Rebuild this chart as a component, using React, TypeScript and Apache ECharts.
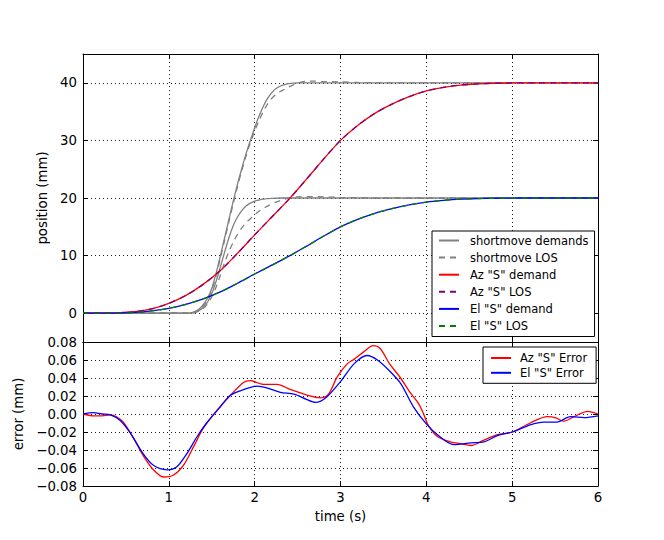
import React, { useEffect, useRef } from "react";
import * as echarts from "echarts";

// ---------- data ----------
const xTicks = [0, 1, 2, 3, 4, 5, 6];
const positionTicks = [0, 10, 20, 30, 40];
const errorTicks = [-0.08, -0.06, -0.04, -0.02, 0, 0.02, 0.04, 0.06, 0.08];

const topLegendNames = [
  "shortmove demands",
  "shortmove LOS",
  'Az "S" demand',
  'Az "S" LOS',
  'El "S" demand',
  'El "S" LOS',
];
const bottomLegendNames = ['Az "S" Error', 'El "S" Error'];

const shortDemand40: [number, number][] = [
  [0, 0], [1.0, 0], [1.15, 0], [1.2, 0], [1.25, 0.05], [1.3, 0.25], [1.35, 0.7], [1.4, 1.5],
  [1.45, 2.6], [1.5, 4.3], [1.55, 6.9], [1.6, 9.9], [1.65, 13.1], [1.7, 16.3], [1.75, 19.4],
  [1.8, 22.4], [1.85, 25.1], [1.9, 27.7], [1.95, 30.0], [2.0, 32.2], [2.05, 34.2], [2.1, 35.9],
  [2.15, 37.3], [2.2, 38.3], [2.25, 39.0], [2.3, 39.45], [2.35, 39.7], [2.4, 39.85], [2.5, 39.97],
  [2.6, 40], [3.0, 40], [6.0, 40],
];
const shortDemand20: [number, number][] = [
  [0, 0], [1.0, 0], [1.15, 0], [1.2, 0], [1.25, 0.03], [1.3, 0.15], [1.35, 0.45], [1.4, 1.0],
  [1.45, 1.9], [1.5, 3.4], [1.55, 5.5], [1.6, 8.0], [1.65, 10.6], [1.7, 13.1], [1.75, 15.2],
  [1.8, 16.7], [1.85, 17.8], [1.9, 18.6], [1.95, 19.1], [2.0, 19.45], [2.05, 19.65], [2.1, 19.8],
  [2.2, 19.93], [2.3, 20], [3.0, 20], [6.0, 20],
];
const shortLos40: [number, number][] = [
  [0, 0], [1.0, 0], [1.15, 0], [1.2, 0], [1.25, 0.03], [1.3, 0.2], [1.35, 0.6], [1.4, 1.3],
  [1.45, 2.3], [1.5, 4.0], [1.55, 6.5], [1.6, 9.5], [1.65, 12.7], [1.7, 15.9], [1.75, 19.0],
  [1.8, 22.0], [1.85, 24.8], [1.9, 27.3], [1.95, 29.6], [2.0, 31.6], [2.05, 33.4], [2.1, 35.0],
  [2.15, 36.3], [2.2, 37.3], [2.25, 38.0], [2.3, 38.5], [2.35, 38.9], [2.4, 39.3], [2.45, 39.65],
  [2.5, 39.95], [2.6, 40.25], [2.7, 40.3], [2.8, 40.2], [2.9, 40.2], [3.0, 40.15], [3.2, 40.05],
  [3.5, 40], [6.0, 40],
];
const shortLos20: [number, number][] = [
  [0, 0], [1.0, 0], [1.15, 0], [1.2, 0], [1.25, 0.02], [1.3, 0.1], [1.35, 0.35], [1.4, 0.8],
  [1.45, 1.6], [1.5, 2.8], [1.55, 4.5], [1.6, 6.6], [1.65, 8.8], [1.7, 10.7], [1.75, 12.3],
  [1.8, 13.7], [1.85, 14.8], [1.9, 15.7], [1.95, 16.4], [2.0, 17.1], [2.05, 17.7], [2.1, 18.2],
  [2.15, 18.6], [2.2, 19.0], [2.25, 19.3], [2.3, 19.55], [2.35, 19.8], [2.4, 20.0], [2.5, 20.2],
  [2.6, 20.25], [2.7, 20.25], [2.8, 20.2], [3.0, 20.1], [3.2, 20.05], [3.5, 20], [6.0, 20],
];
const azDemand: [number, number][] = [
  [0, 0], [0.2, 0.01], [0.4, 0.06], [0.6, 0.25], [0.8, 0.75], [1.0, 1.7], [1.2, 3.1], [1.4, 5.0],
  [1.6, 7.4], [1.8, 10.4], [2.0, 13.6], [2.2, 16.7], [2.4, 19.8], [2.6, 23.2], [2.8, 26.7],
  [3.0, 30.0], [3.2, 32.6], [3.4, 34.7], [3.6, 36.3], [3.8, 37.6], [4.0, 38.6], [4.2, 39.2],
  [4.4, 39.6], [4.6, 39.8], [4.8, 39.92], [5.0, 39.97], [5.2, 40], [5.6, 40], [6.0, 40],
];
const elDemand: [number, number][] = [
  [0, 0], [0.2, 0.005], [0.4, 0.03], [0.6, 0.13], [0.8, 0.4], [1.0, 0.85], [1.2, 1.55], [1.4, 2.5],
  [1.6, 3.7], [1.8, 5.2], [2.0, 6.8], [2.2, 8.35], [2.4, 9.9], [2.6, 11.6], [2.8, 13.35],
  [3.0, 15.0], [3.2, 16.3], [3.4, 17.35], [3.6, 18.15], [3.8, 18.8], [4.0, 19.3], [4.2, 19.6],
  [4.4, 19.8], [4.6, 19.9], [4.8, 19.96], [5.0, 19.99], [5.2, 20], [5.6, 20], [6.0, 20],
];
// LOS tracks the demand to within the error shown in the lower panel (not visible at this scale)
const azLos = azDemand;
const elLos = elDemand;

const azError: [number, number][] = [
  [0, 0], [0.12, -0.002], [0.22, -0.002], [0.32, -0.001], [0.39, -0.003], [0.47, -0.009],
  [0.59, -0.027], [0.7, -0.046], [0.82, -0.062], [0.94, -0.07], [1.05, -0.068], [1.17, -0.057],
  [1.29, -0.036], [1.4, -0.016], [1.56, 0.004], [1.72, 0.021], [1.87, 0.035], [1.95, 0.037],
  [2.1, 0.033], [2.26, 0.033], [2.42, 0.027], [2.61, 0.021], [2.77, 0.018], [2.86, 0.022],
  [2.96, 0.041], [3.08, 0.056], [3.16, 0.061], [3.27, 0.069], [3.38, 0.076], [3.46, 0.073],
  [3.57, 0.056], [3.7, 0.04], [3.81, 0.024], [3.9, 0.013], [3.96, 0.002], [4.02, -0.012],
  [4.13, -0.025], [4.28, -0.031], [4.4, -0.033], [4.52, -0.035], [4.67, -0.029], [4.83, -0.023],
  [5.0, -0.02], [5.21, -0.01], [5.41, -0.003], [5.5, -0.004], [5.6, -0.008], [5.72, -0.003],
  [5.88, 0.003], [6.0, 0.0],
];
const elError: [number, number][] = [
  [0, 0], [0.12, 0.0015], [0.22, 0.0], [0.32, -0.001], [0.43, -0.007], [0.55, -0.021],
  [0.7, -0.044], [0.82, -0.057], [0.98, -0.062], [1.09, -0.059], [1.21, -0.044], [1.33, -0.025],
  [1.44, -0.01], [1.6, 0.008], [1.72, 0.021], [1.87, 0.027], [2.03, 0.031], [2.14, 0.029],
  [2.3, 0.024], [2.46, 0.022], [2.61, 0.016], [2.71, 0.013], [2.84, 0.019], [3.0, 0.036],
  [3.16, 0.056], [3.31, 0.065], [3.43, 0.06], [3.57, 0.048], [3.7, 0.034], [3.85, 0.008],
  [4.0, -0.011], [4.13, -0.023], [4.32, -0.034], [4.52, -0.032], [4.67, -0.031], [4.83, -0.024],
  [5.0, -0.02], [5.21, -0.012], [5.37, -0.009], [5.52, -0.009], [5.68, -0.003], [5.84, -0.004],
  [6.0, -0.002],
];

// ---------- styling ----------
const FONT = "DejaVu Sans";
const TICK_FS = 13.3;
const LEG_FS = 11.5;
const INK = "#000";

const axisLine = { show: true, onZero: false, lineStyle: { color: INK, width: 1 } };
const tickIn = { show: true, inside: true, length: 5, lineStyle: { color: INK, width: 1 } };
const dotted = { show: true, lineStyle: { color: INK, width: 0.9, type: [1, 3] } };
const noLabel = { show: false };

const fmtPos = (v: number) =>
  positionTicks.some((t) => Math.abs(t - v) < 1e-9) ? String(Math.round(v)) : "";
const fmtErr = (v: number) => {
  const t = errorTicks.find((e) => Math.abs(e - v) < 1e-9);
  if (t === undefined) return "";
  const s = Math.abs(t).toFixed(2);
  return t < -1e-9 ? "\u2212" + s : s;
};
const fmtX = (v: number) => (xTicks.includes(Math.round(v)) ? String(Math.round(v)) : "");

function lineSeries(
  name: string,
  data: [number, number][],
  color: string,
  grid: number,
  dashed: boolean
) {
  return {
    type: "line",
    name,
    data,
    xAxisIndex: grid === 0 ? 0 : 2,
    yAxisIndex: grid === 0 ? 0 : 2,
    symbol: "none",
    showSymbol: false,
    smooth: 0.3,
    lineStyle: { color, width: 1.3, type: dashed ? [6, 5] : "solid" },
    itemStyle: { color },
    emphasis: { disabled: true },
    silent: true,
  };
}

const legendCommon = {
  orient: "vertical",
  itemWidth: 20,
  itemHeight: 14,
  selectedMode: false,
  borderColor: INK,
  borderWidth: 1,
  borderRadius: 0,
  backgroundColor: "#fff",
  itemStyle: { color: "rgba(0,0,0,0)", borderWidth: 0, opacity: 0 },
};

export default function App() {
  const ref = useRef<HTMLDivElement>(null);

  useEffect(() => {
    document.body.style.margin = "0";
    const chart = echarts.init(ref.current!, null, { renderer: "svg" });

    const xBase = {
      type: "value",
      min: 0,
      max: 6,
      interval: 1,
      axisLine,
      axisTick: tickIn,
    };
    const yTop = { type: "value", min: -5, max: 45, splitNumber: 5, axisLine, axisTick: tickIn };
    const yBot = {
      type: "value",
      min: -0.08,
      max: 0.08,
      interval: 0.02,
      axisLine,
      axisTick: tickIn,
    };
    const labelStyle = { fontFamily: FONT, fontSize: TICK_FS, color: INK };

    const option: any = {
      animation: false,
      backgroundColor: "#fff",
      textStyle: { fontFamily: FONT },
      grid: [
        { left: 83, top: 54, width: 515, height: 288, show: false },
        { left: 83, top: 342, width: 515, height: 144, show: false },
      ],
      xAxis: [
        { ...xBase, gridIndex: 0, position: "bottom", axisLabel: noLabel, splitLine: dotted },
        { ...xBase, gridIndex: 0, position: "top", axisLabel: noLabel, splitLine: { show: false } },
        {
          ...xBase,
          gridIndex: 1,
          position: "bottom",
          splitLine: dotted,
          axisLabel: { ...labelStyle, margin: 5, formatter: fmtX },
          name: "time (s)",
          nameLocation: "middle",
          nameGap: 24,
          nameTextStyle: { fontFamily: FONT, fontSize: TICK_FS, color: INK },
        },
        { ...xBase, gridIndex: 1, position: "top", axisLabel: noLabel, splitLine: { show: false } },
      ],
      yAxis: [
        {
          ...yTop,
          gridIndex: 0,
          position: "left",
          splitLine: dotted,
          axisLabel: { ...labelStyle, margin: 6, formatter: fmtPos },
          name: "position (mm)",
          nameLocation: "middle",
          nameGap: 27,
          nameTextStyle: { fontFamily: FONT, fontSize: TICK_FS, color: INK },
        },
        { ...yTop, gridIndex: 0, position: "right", axisLabel: noLabel, splitLine: { show: false } },
        {
          ...yBot,
          gridIndex: 1,
          position: "left",
          splitLine: dotted,
          axisLabel: { ...labelStyle, margin: 6, formatter: fmtErr },
          name: "error (mm)",
          nameLocation: "middle",
          nameGap: 51,
          nameTextStyle: { fontFamily: FONT, fontSize: TICK_FS, color: INK },
        },
        { ...yBot, gridIndex: 1, position: "right", axisLabel: noLabel, splitLine: { show: false } },
      ],
      legend: [
        {
          ...legendCommon,
          data: topLegendNames,
          left: 432,
          top: 231,
          padding: [3.5, 6, 4.5, 6],
          itemGap: 5.1,
          textStyle: { fontFamily: FONT, fontSize: LEG_FS, color: INK, padding: [0, 0, 0, 6] },
        },
        {
          ...legendCommon,
          data: bottomLegendNames,
          left: 483,
          top: 347,
          padding: [5, 9, 4.5, 7],
          itemGap: 2.8,
          textStyle: { fontFamily: FONT, fontSize: LEG_FS, color: INK, padding: [0, 0, 0, 4] },
        },
      ],
      series: [
        lineSeries("shortmove demands", shortDemand40, "#808080", 0, false),
        lineSeries("shortmove demands", shortDemand20, "#808080", 0, false),
        lineSeries("shortmove LOS", shortLos40, "#808080", 0, true),
        lineSeries("shortmove LOS", shortLos20, "#808080", 0, true),
        lineSeries('Az "S" demand', azDemand, "#ff0000", 0, false),
        lineSeries('Az "S" LOS', azLos, "#800080", 0, true),
        lineSeries('El "S" demand', elDemand, "#0000ff", 0, false),
        lineSeries('El "S" LOS', elLos, "#008000", 0, true),
        lineSeries('Az "S" Error', azError, "#ff0000", 1, false),
        lineSeries('El "S" Error', elError, "#0000ff", 1, false),
      ],
    };

    chart.setOption(option);
    return () => chart.dispose();
  }, []);

  return (
    <div
      ref={ref}
      style={{ position: "fixed", left: 0, top: 0, width: 664, height: 540, background: "#fff" }}
    />
  );
}
